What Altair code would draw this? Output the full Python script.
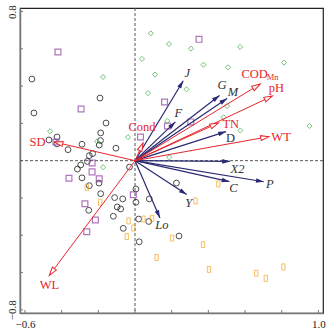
import math
import altair as alt
import pandas as pd

# ---------------- data ----------------
circle_x = [-0.562, -0.551, -0.191, -0.158, -0.187, -0.188, -0.195, -0.469, -0.425, -0.425,
            -0.365, -0.289, -0.104, -0.231, -0.249, -0.260, -0.296, -0.030, -0.314, -0.289,
            -0.196, -0.249, -0.187, -0.111, -0.067, 0.005, 0.005, -0.097, -0.078, -0.252,
            -0.118, 0.078, 0.226, 0.020, 0.075, -0.064, 0.023, 0.240]
circle_y = [0.438, 0.256, 0.336, 0.202, 0.149, 0.108, 0.084, 0.111, 0.127, 0.090,
            0.059, 0.088, 0.067, 0.038, 0.027, -0.004, -0.023, -0.034, -0.045, -0.092,
            -0.120, -0.134, -0.177, -0.198, -0.205, -0.152, -0.223, -0.248, -0.259, -0.266,
            -0.298, -0.205, -0.120, -0.313, -0.326, -0.363, -0.435, -0.404]

square_x = [-0.420, 0.349, -0.294, 0.161, 0.304, 0.177, 0.030, -0.431, -0.234, -0.234,
            -0.360, -0.195, -0.009, -0.273, -0.216, -0.263]
square_y = [0.583, 0.651, 0.277, 0.315, 0.208, 0.186, 0.127, 0.100, -0.012, -0.060,
            -0.094, -0.097, -0.183, -0.231, -0.318, -0.381]

diamond_x = [0.086, 0.185, 0.305, 0.573, 0.038, 0.373, 0.507, 0.812, 0.109, -0.174,
             0.071, 0.281, 0.502, 0.483, 0.176, 0.574, 0.951, -0.463, -0.038, -0.207,
             0.187, -0.174]
diamond_y = [0.683, 0.626, 0.601, 0.610, 0.546, 0.515, 0.501, 0.526, 0.462, 0.449,
             0.362, 0.383, 0.293, 0.233, 0.213, 0.162, 0.186, 0.158, 0.126, 0.103,
             0.018, -0.035]

rect_x = [-0.263, -0.190, -0.035, 0.046, 0.093, -0.009, -0.045, 0.118, 0.202, 0.330,
          0.454, 0.371, 0.403, 0.661, 0.713, 0.809]
rect_y = [-0.143, -0.223, -0.323, -0.313, -0.310, -0.361, -0.407, -0.519, -0.415, -0.216,
          -0.125, -0.450, -0.583, -0.604, -0.631, -0.570]

species_names = ["J", "G", "M", "F", "D", "X2", "C", "P", "Y", "Lo"]
species_x = [0.263, 0.461, 0.502, 0.220, 0.496, 0.518, 0.515, 0.702, 0.282, 0.136]
species_y = [0.429, 0.350, 0.334, 0.208, 0.156, -0.004, -0.112, -0.113, -0.182, -0.307]

env_names = ["COD", "pH", "TN", "WT", "SD", "WL", "Cond"]
env_x = [0.682, 0.749, 0.454, 0.731, -0.439, -0.467, 0.044]
env_y = [0.411, 0.347, 0.202, 0.129, 0.100, -0.615, 0.095]

x_ticks = [-0.6, -0.4, -0.2, 0.0, 0.2, 0.4, 0.6, 0.8, 1.0]
y_ticks = [-0.8, -0.6, -0.4, -0.2, 0.0, 0.2, 0.4, 0.6, 0.8]

# ---------------- style ----------------
W, H = 303, 305
XDOM = [-0.627, 1.025]
YDOM = [-0.817, 0.819]
FONT = "Liberation Serif"
RED = "#e8262d"
NAVY = "#2a2a72"
GREEN = "#3aa83a"
PURPLE = "#8e3ba3"
ORANGE = "#f5a31f"
LABEL_DARK = "#333333"

kx = W / (XDOM[1] - XDOM[0])
ky = H / (YDOM[1] - YDOM[0])

xs = alt.Scale(domain=XDOM, nice=False, zero=False)
ys = alt.Scale(domain=YDOM, nice=False, zero=False)

XAX = alt.Axis(
    values=x_ticks, ticks=False, tickSize=0, grid=False, title=None,
    labelExpr="(abs(datum.value + 0.6) < 1e-6 || abs(datum.value - 1) < 1e-6) ? format(datum.value, '.1f') : ''",
    labelFont=FONT, labelFontSize=11, labelColor="#222222", labelPadding=5,
    labelFlush=False, labelOverlap=False,
    domainColor="#777777", domainWidth=1.5)
YAX = alt.Axis(
    values=y_ticks, ticks=False, tickSize=0, grid=False, title=None,
    labelExpr="(abs(datum.value + 0.8) < 1e-6 || abs(datum.value - 0.8) < 1e-6) ? format(datum.value, '.1f') : ''",
    labelFont=FONT, labelFontSize=11, labelColor="#222222", labelPadding=3,
    labelAngle=270, labelAlign="center", labelBaseline="bottom",
    labelFlush=False, labelOverlap=False,
    domainColor="#777777", domainWidth=1.5)


def X(f="x"):
    return alt.X(f"{f}:Q", scale=xs, axis=XAX)


def Y(f="y"):
    return alt.Y(f"{f}:Q", scale=ys, axis=YAX)


def head_angle(x, y):
    return math.degrees(math.atan2(x * kx, y * ky)) % 360


# ---------------- tables ----------------
pts_circle = pd.DataFrame({"x": circle_x, "y": circle_y})
pts_square = pd.DataFrame({"x": square_x, "y": square_y})
pts_diamond = pd.DataFrame({"x": diamond_x, "y": diamond_y})
pts_rect = pd.DataFrame({"x": rect_x, "y": rect_y})

sp = pd.DataFrame({"name": species_names, "x": species_x, "y": species_y})
sp["x0"] = 0.0
sp["y0"] = 0.0
sp["angle"] = [head_angle(a, b) for a, b in zip(species_x, species_y)]

en = pd.DataFrame({"name": env_names, "x": env_x, "y": env_y})
en["x0"] = 0.0
en["y0"] = 0.0
en["angle"] = [head_angle(a, b) for a, b in zip(env_x, env_y)]

HEAD = "M0,0L-0.65,2.2L0.65,2.2Z"
RECT = "M-0.55,-1L0.55,-1L0.55,1L-0.55,1Z"

# inward tick marks
x_tick_marks = alt.Chart(pd.DataFrame({"x": x_ticks})).mark_rule(
    color="#777777", strokeWidth=1
).encode(x=X(), y=alt.value(H), y2=alt.value(H - 3))

y_tick_marks = alt.Chart(pd.DataFrame({"y": y_ticks})).mark_rule(
    color="#777777", strokeWidth=1
).encode(y=Y(), x=alt.value(0), x2=alt.value(3))

zero_v = alt.Chart(pd.DataFrame({"x": [0.0]})).mark_rule(
    color="#555555", strokeDash=[3, 2], strokeWidth=1
).encode(x=X())
zero_h = alt.Chart(pd.DataFrame({"y": [0.0]})).mark_rule(
    color="#555555", strokeDash=[3, 2], strokeWidth=1
).encode(y=Y())

circles = alt.Chart(pts_circle).mark_point(
    shape="circle", filled=False, color="black", size=34, strokeWidth=1
).encode(x=X(), y=Y())
squares = alt.Chart(pts_square).mark_point(
    shape="square", filled=False, color=PURPLE, size=34, strokeWidth=1.2
).encode(x=X(), y=Y())
diamonds = alt.Chart(pts_diamond).mark_point(
    shape="diamond", filled=False, color=GREEN, size=26, strokeWidth=1
).encode(x=X(), y=Y())
rects = alt.Chart(pts_rect).mark_point(
    shape=RECT, filled=False, color=ORANGE, size=36, strokeWidth=1
).encode(x=X(), y=Y())

sp_lines = alt.Chart(sp).mark_rule(color=NAVY, strokeWidth=1.2).encode(
    x=X("x0"), y=Y("y0"), x2="x:Q", y2="y:Q")
sp_heads = alt.Chart(sp).mark_point(
    shape=HEAD, filled=True, color=NAVY, size=50, opacity=1
).encode(x=X(), y=Y(), angle=alt.Angle("angle:Q", scale=None))

en_lines = alt.Chart(en).mark_rule(color=RED, strokeWidth=1).encode(
    x=X("x0"), y=Y("y0"), x2="x:Q", y2="y:Q")
en_heads = alt.Chart(en).mark_point(
    shape=HEAD, filled=False, fill="white", fillOpacity=1, color=RED, size=58,
    strokeWidth=1, opacity=1
).encode(x=X(), y=Y(), angle=alt.Angle("angle:Q", scale=None))

# label styling: (text, dx, dy, italic, size)
sp_label_style = {
    "J": ("J", 4, -8, True, 12.5),
    "G": ("G", 2.5, -10, True, 12.5),
    "M": ("M", 6, -6.5, True, 12.5),
    "F": ("F", 3, -9, True, 12.5),
    "D": ("D", 4.5, 6, False, 12.5),
    "X2": ("X2", 7.5, 7.5, True, 12.5),
    "C": ("C", 4, 6.5, True, 12.5),
    "P": ("P", 6, 2.5, True, 12.5),
    "Y": ("Y", 2, 8, True, 12.5),
    "Lo": ("Lo", 2, 7.5, True, 12.5),
}
en_label_style = {
    "COD": [("COD", -5.5, -10.5, 12.5), ("Mn", 12.5, -7.5, 8.5)],
    "pH": [("pH", 4, -7.5, 12.5)],
    "TN": [("TN", 12.5, 1, 12.5)],
    "WT": [("WT", 12, 0, 12.5)],
    "SD": [("SD", -17, 0, 12.5)],
    "WL": [("WL", 0, 10, 12.5)],
    "Cond": [("Cond", -1, -16, 12.5)],
}

label_layers = []
for name, lx, ly in zip(species_names, species_x, species_y):
    text, dx, dy, ital, fs = sp_label_style[name]
    label_layers.append(
        alt.Chart(pd.DataFrame({"x": [lx], "y": [ly], "t": [text]})).mark_text(
            dx=dx, dy=dy, font=FONT, fontSize=fs, fontStyle="italic" if ital else "normal",
            color=LABEL_DARK, align="center", baseline="middle"
        ).encode(x=X(), y=Y(), text="t:N")
    )
for name, lx, ly in zip(env_names, env_x, env_y):
    for text, dx, dy, fs in en_label_style[name]:
        label_layers.append(
            alt.Chart(pd.DataFrame({"x": [lx], "y": [ly], "t": [text]})).mark_text(
                dx=dx, dy=dy, font=FONT, fontSize=fs, color=RED,
                align="center", baseline="middle"
            ).encode(x=X(), y=Y(), text="t:N")
        )

chart = alt.layer(
    x_tick_marks, y_tick_marks, zero_v, zero_h,
    circles, squares, diamonds, rects,
    sp_lines, en_lines, sp_heads, en_heads,
    *label_layers,
).properties(
    width=W, height=H,
    padding={"left": 20, "top": 8, "right": 11, "bottom": 22},
    autosize=alt.AutoSizeParams(type="none"),
    background="white",
).configure_view(
    stroke="#222222", strokeWidth=1.2
)

chart.save("out.html", embed_options={"renderer": "svg", "actions": False})
